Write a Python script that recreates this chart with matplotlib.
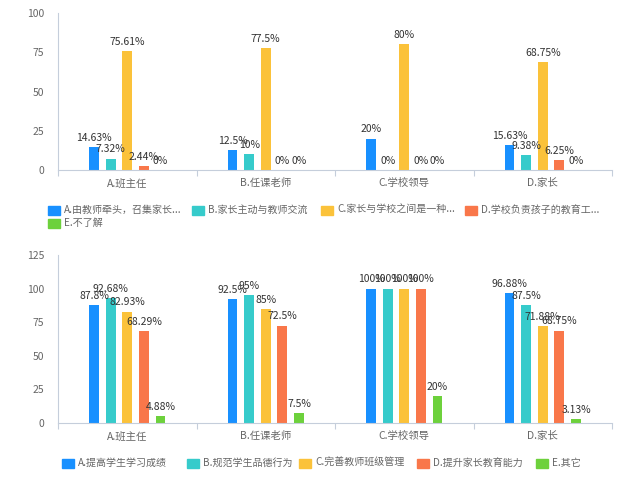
import matplotlib
matplotlib.use("Agg")
import matplotlib.pyplot as plt
from matplotlib.patches import Rectangle
import numpy as np

plt.rcParams['font.family'] = ['Noto Sans CJK SC', 'DejaVu Sans']

categories = ["A.班主任", "B.任课老师", "C.学校领导", "D.家长"]

top_series = ["A.由教师牵头，召集家长...", "B.家长主动与教师交流", "C.家长与学校之间是一种...",
              "D.学校负责孩子的教育工...", "E.不了解"]
top_values = [
    [14.63, 12.5, 20, 15.63],
    [7.32, 10, 0, 9.38],
    [75.61, 77.5, 80, 68.75],
    [2.44, 0, 0, 6.25],
    [0, 0, 0, 0],
]
top_labels = [
    ["14.63%", "12.5%", "20%", "15.63%"],
    ["7.32%", "10%", "0%", "9.38%"],
    ["75.61%", "77.5%", "80%", "68.75%"],
    ["2.44%", "0%", "0%", "6.25%"],
    ["0%", "0%", "0%", "0%"],
]
top_yticks = [0, 25, 50, 75, 100]

bot_series = ["A.提高学生学习成绩", "B.规范学生品德行为", "C.完善教师班级管理", "D.提升家长教育能力", "E.其它"]
bot_values = [
    [87.8, 92.5, 100, 96.88],
    [92.68, 95, 100, 87.5],
    [82.93, 85, 100, 71.88],
    [68.29, 72.5, 100, 68.75],
    [4.88, 7.5, 20, 3.13],
]
bot_labels = [
    ["87.8%", "92.5%", "100%", "96.88%"],
    ["92.68%", "95%", "100%", "87.5%"],
    ["82.93%", "85%", "100%", "71.88%"],
    ["68.29%", "72.5%", "100%", "68.75%"],
    ["4.88%", "7.5%", "20%", "3.13%"],
]
bot_yticks = [0, 25, 50, 75, 100, 125]

colors = ["#1890FF", "#36CBCB", "#FBC23A", "#F9774A", "#6DD13C"]
axis_color = "#C5CEDB"
tick_color = "#666666"
label_color = "#333333"
FS = 7.5
LFS = 7.2

W, H = 643, 478
fig = plt.figure(figsize=(W / 100, H / 100), dpi=100)


def draw(ax, values, labels, yticks, series):
    x = np.arange(len(categories))
    n = len(values)
    step = 0.12
    width = 0.072
    for i in range(n):
        off = (i - (n - 1) / 2) * step
        b = ax.bar(x + off, values[i], width, color=colors[i], label=series[i], zorder=2)
        for j, rect in enumerate(b):
            ax.annotate(labels[i][j], (rect.get_x() + rect.get_width() / 2, rect.get_height()),
                        xytext=(0, 3), textcoords="offset points", ha="center", va="bottom",
                        fontsize=FS, color=label_color)
    ax.set_xlim(-0.5, len(categories) - 0.5)
    ax.set_ylim(yticks[0], yticks[-1])
    ax.set_yticks(yticks)
    ax.set_xticks(x)
    ax.set_xticklabels(categories)
    ax.set_xticks(np.arange(len(categories) + 1) - 0.5, minor=True)
    ax.tick_params(axis="x", which="major", length=0, pad=6, labelsize=FS, labelcolor=tick_color)
    ax.tick_params(axis="x", which="minor", length=4, width=0.8, color=axis_color, direction="out")
    ax.tick_params(axis="y", length=0, pad=10, labelsize=FS, labelcolor=tick_color)
    for s in ["top", "right"]:
        ax.spines[s].set_visible(False)
    for s in ["left", "bottom"]:
        ax.spines[s].set_color(axis_color)
        ax.spines[s].set_linewidth(0.8)


def legend(series, slots):
    # slots: (left px, centre y px) for each legend entry
    for i, (name, (px, py)) in enumerate(zip(series, slots)):
        fig.patches.append(Rectangle((px / W, 1 - (py + 4.5) / H), 12 / W, 9 / H,
                                     transform=fig.transFigure, color=colors[i]))
        fig.text((px + 16) / W, 1 - py / H, name, fontsize=LFS, color=tick_color,
                 ha="left", va="center")


ax1 = fig.add_axes([58 / W, 1 - 170 / H, 554 / W, 157 / H])
draw(ax1, top_values, top_labels, top_yticks, top_series)
ax2 = fig.add_axes([58 / W, 1 - 423 / H, 554 / W, 168 / H])
draw(ax2, bot_values, bot_labels, bot_yticks, bot_series)

legend(top_series, [(48, 210), (192, 210), (321, 210), (465, 210), (48, 223)])
legend(bot_series, [(62, 463), (187, 463), (299, 463), (417, 463), (536, 463)])

fig.savefig("out.png", dpi=100)
